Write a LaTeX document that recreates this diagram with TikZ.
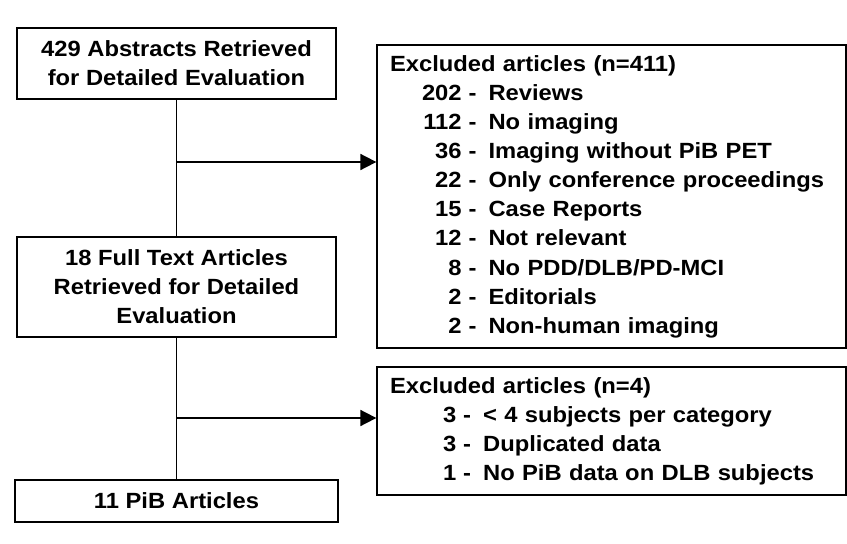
\documentclass[tikz,border=0pt]{standalone}
\usepackage{fontspec}
\setmainfont[FakeStretch=1.08]{Liberation Sans}
\usetikzlibrary{positioning, arrows.meta}
\tikzset{every node/.style={font=\bfseries\fontsize{22}{29.1}\selectfont},
         stage/.style={draw, line width=1.3pt, minimum width=319pt, align=center, inner sep=0pt},
         excl/.style={draw, line width=1.3pt, minimum width=469pt, inner xsep=13pt, inner ysep=0pt, text width=443pt, align=left},
         flow/.style={line width=1.8pt},
         toexcl/.style={flow, -{Triangle[length=16pt, width=16pt]}},
        }

\begin{document}
\begin{tikzpicture}[x=1pt, y=-1pt]
        \useasboundingbox (0,0) rectangle (847,544);

        \node[stage, minimum height=71pt](abstracts)at(176.5,63.5){429 Abstracts Retrieved\\for Detailed Evaluation};
        \node[stage, minimum height=100pt](fulltext)at(176.5,287){18 Full Text Articles\\Retrieved for Detailed\\Evaluation};
        \node[stage, minimum width=323pt, minimum height=42pt](pib)at(176.5,501){11 PiB Articles};

        \node[excl, minimum height=303pt](exclabs)at(611.5,196.5){%
          \begin{tabular}{@{\hspace{32pt}}r@{\hspace{7pt}-\hspace{12pt}}l@{}}
            \multicolumn{2}{@{}l@{}}{Excluded articles (n=411)}\\
            202 & Reviews\\
            112 & No imaging\\
            36 & Imaging without PiB PET\\
            22 & Only conference proceedings\\
            15 & Case Reports\\
            12 & Not relevant\\
            8 & No PDD/DLB/PD-MCI\\
            2 & Editorials\\
            2 & Non-human imaging
          \end{tabular}};
        \node[excl, minimum height=128pt](exclfull)at(611.5,431){%
          \begin{tabular}{@{\hspace{53pt}}r@{\hspace{7pt}-\hspace{12pt}}l@{}}
            \multicolumn{2}{@{}l@{}}{Excluded articles (n=4)}\\
            3 & < 4 subjects per category\\
            3 & Duplicated data\\
            1 & No PiB data on DLB subjects
          \end{tabular}};

        \coordinate(splitabs)at(176.5,162);
        \coordinate(splitfull)at(176.5,418);

        \draw[flow](abstracts.south)--(fulltext.north);
        \draw[toexcl](splitabs)--(splitabs-|exclabs.west);
        \draw[flow](fulltext.south)--(pib.north);
        \draw[toexcl](splitfull)--(splitfull-|exclfull.west);
\end{tikzpicture}
\end{document}
